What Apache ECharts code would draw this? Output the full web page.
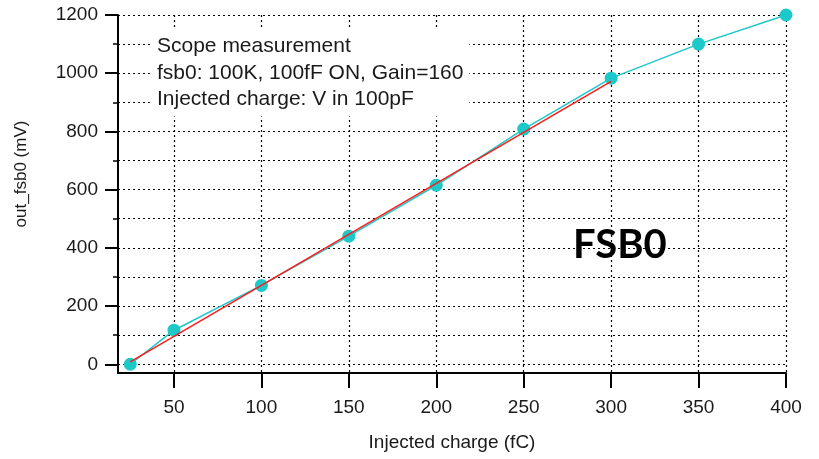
<!DOCTYPE html>
<html>
<head>
<meta charset="utf-8">
<script src="https://cdn.jsdelivr.net/npm/echarts@6/dist/echarts.min.js"></script>
<style>
  html, body { margin: 0; padding: 0; background: #ffffff; }
  #chart { width: 819px; height: 459px; }
</style>
</head>
<body>
<div id="chart"></div>
<script>
// Measured output of fsb0 versus injected charge
const charge = [25, 50, 100, 150, 200, 250, 300, 350, 400];
const outMv = [0, 117, 271, 440, 615, 808, 983, 1100, 1200];

// Straight-line fit over the linear range
const fitCharge = [25, 300];
const fitMv = [8, 972];

// Tick positions
const xTicks = [50, 100, 150, 200, 250, 300, 350, 400];
const yMajorTicks = [0, 200, 400, 600, 800, 1000, 1200];
const yMinorTicks = [0, 100, 200, 300, 400, 500, 600, 700, 800, 900, 1000, 1100, 1200];

const noteLines = [
  'Scope measurement',
  'fsb0: 100K, 100fF ON, Gain=160',
  'Injected charge: V in 100pF'
];
const plotTag = 'FSB0';

const FONT = '"Liberation Sans", Arial, sans-serif';
const INK = '#1a1a1a';
const CYAN = '#1dc8c8';
const gridDots = { color: '#000000', width: 1.2, type: [2, 3] };

const chart = echarts.init(document.getElementById('chart'));

chart.setOption({
  animation: false,
  backgroundColor: '#ffffff',
  title: [
    {
      text: noteLines.join('\n'),
      left: 151,
      top: 29,
      padding: [4, 6, 4, 6],
      backgroundColor: '#ffffff',
      textStyle: { fontFamily: FONT, fontSize: 21, fontWeight: 'normal', color: INK, lineHeight: 26.5 }
    },
    {
      text: plotTag,
      left: 573,
      top: 225,
      padding: 0,
      textStyle: { fontFamily: 'Lato, "Noto Sans", sans-serif', fontSize: 40, fontWeight: 'bold', color: '#000000' }
    }
  ],
  grid: { left: 118, right: 33, top: 15, bottom: 86, containLabel: false },
  xAxis: {
    type: 'value',
    min: 18,
    max: 400,
    name: 'Injected charge (fC)',
    nameLocation: 'middle',
    nameGap: 60,
    nameTextStyle: { fontFamily: FONT, fontSize: 19, color: INK },
    axisLine: { show: true, onZero: false, lineStyle: { color: '#000000', width: 2 } },
    axisTick: { show: true, inside: false, length: 15, customValues: xTicks, lineStyle: { color: '#000000', width: 2 } },
    axisLabel: { customValues: xTicks, margin: 25, fontFamily: FONT, fontSize: 19, color: INK },
    splitLine: { show: true, lineStyle: gridDots }
  },
  yAxis: [
    {
      type: 'value',
      min: -30,
      max: 1200,
      position: 'left',
      name: 'out_fsb0 (mV)',
      nameLocation: 'middle',
      nameGap: 88,
      nameTextStyle: { fontFamily: FONT, fontSize: 17, color: INK, padding: [0, 0, 0, 40] },
      axisLine: { show: true, onZero: false, lineStyle: { color: '#000000', width: 2 } },
      axisTick: { show: true, length: 13, customValues: yMajorTicks, lineStyle: { color: '#000000', width: 2 } },
      axisLabel: {
        customValues: yMajorTicks,
        margin: 20,
        fontFamily: FONT,
        fontSize: 19,
        color: INK,
        formatter: (v) => String(v)
      },
      splitLine: { show: false }
    },
    {
      type: 'value',
      min: -30,
      max: 1200,
      position: 'left',
      axisLine: { show: false },
      axisTick: { show: true, length: 5, customValues: yMinorTicks, lineStyle: { color: '#000000', width: 1.5 } },
      axisLabel: { show: false, customValues: yMinorTicks },
      splitLine: { show: true, lineStyle: gridDots }
    }
  ],
  series: [
    {
      type: 'line',
      yAxisIndex: 0,
      data: charge.map((c, i) => [c, outMv[i]]),
      symbol: 'circle',
      symbolSize: 13,
      lineStyle: { color: CYAN, width: 1.5 },
      itemStyle: { color: CYAN },
      z: 3
    },
    {
      type: 'line',
      yAxisIndex: 0,
      data: fitCharge.map((c, i) => [c, fitMv[i]]),
      symbol: 'none',
      lineStyle: { color: '#ff1a1a', width: 1.5 },
      z: 4
    }
  ]
});
</script>
</body>
</html>
